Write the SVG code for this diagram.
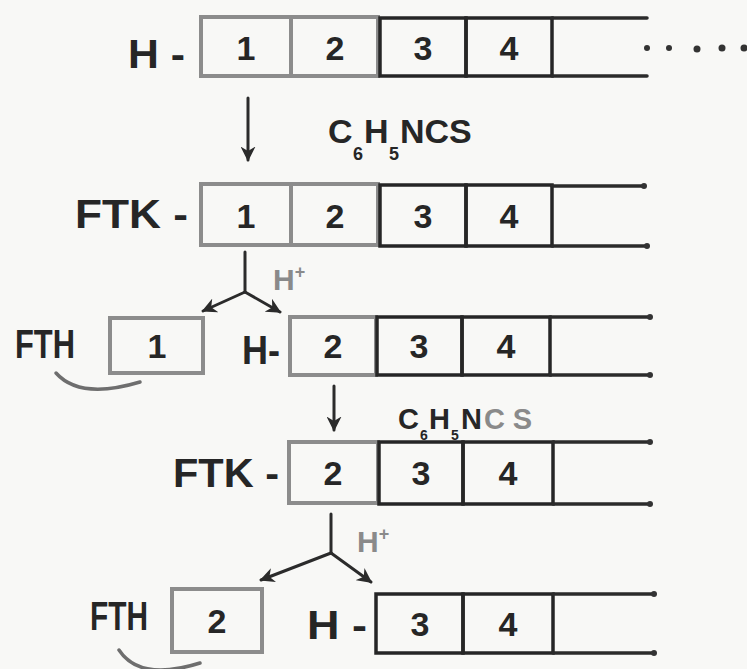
<svg xmlns="http://www.w3.org/2000/svg" width="747" height="669" viewBox="0 0 747 669">
<defs>
<style>
.bg{fill:#f8f8f6}
.gb{fill:none;stroke:#8c8c8c;stroke-width:4}
.bk{fill:none;stroke:#262626;stroke-width:3.5}
.ln{fill:none;stroke:#2b2b2b;stroke-width:3.5;stroke-linecap:round}
.end{fill:#333}
.t{font-family:"Liberation Sans","DejaVu Sans",sans-serif;font-weight:bold;fill:#262626}
.d{font-size:34px;text-anchor:middle}
.lab{font-size:40px}
.grey{fill:#8a8a8a}
.arr{fill:none;stroke:#2b2b2b;stroke-width:3;stroke-linecap:round}
.arc{fill:none;stroke:#6e6e6e;stroke-width:3.5;stroke-linecap:round}
</style>
<marker id="ah" viewBox="0 0 10 10" refX="9" refY="5" markerWidth="5" markerHeight="5" orient="auto" markerUnits="strokeWidth">
<path d="M0,0 L10,5 L0,10 L3,5 Z" fill="#2b2b2b"/>
</marker>
</defs>
<rect class="bg" x="0" y="0" width="747" height="669"/>

<g id="row1">
<text class="t lab" x="128" y="68" textLength="57" lengthAdjust="spacingAndGlyphs">H -</text>
<rect class="gb" x="201" y="17" width="90" height="59"/>
<rect class="gb" x="291" y="17" width="87" height="59"/>
<rect class="bk" x="380" y="18" width="86" height="58"/>
<rect class="bk" x="466" y="18" width="86" height="58"/>
<path class="ln" d="M552,18 H647 M552,76 H647"/>
<text class="t d" x="246" y="60">1</text>
<text class="t d" x="335" y="60">2</text>
<text class="t d" x="423" y="60">3</text>
<text class="t d" x="509" y="60">4</text>
<g class="end"><circle cx="647" cy="48" r="3"/><circle cx="669" cy="48" r="3"/><circle cx="697" cy="49" r="3.5"/><circle cx="722" cy="48" r="3.5"/><circle cx="744" cy="48" r="3.5"/></g>
</g>

<g id="row2">
<text class="t lab" x="75" y="228" textLength="113" lengthAdjust="spacingAndGlyphs">FTK -</text>
<rect class="gb" x="201" y="184" width="90" height="61"/>
<rect class="gb" x="291" y="184" width="87" height="61"/>
<rect class="bk" x="380" y="185" width="86" height="61"/>
<rect class="bk" x="466" y="185" width="86" height="61"/>
<path class="ln" d="M552,186 H643 M552,246 H647"/>
<circle class="end" cx="644" cy="186" r="3"/><circle class="end" cx="647" cy="246" r="3"/>
<text class="t d" x="246" y="228">1</text>
<text class="t d" x="335" y="228">2</text>
<text class="t d" x="423" y="228">3</text>
<text class="t d" x="509" y="228">4</text>
</g>

<g id="row3">
<text class="t lab" x="15" y="358" textLength="60" lengthAdjust="spacingAndGlyphs">FTH</text>
<rect class="gb" x="110" y="318" width="93" height="55"/>
<text class="t d" x="157" y="358">1</text>
<text class="t lab" x="242" y="364" textLength="38" lengthAdjust="spacingAndGlyphs">H-</text>
<rect class="gb" x="290" y="317" width="86" height="58"/>
<rect class="bk" x="377" y="317" width="85" height="58"/>
<rect class="bk" x="462" y="317" width="88" height="58"/>
<path class="ln" d="M550,317 H650 M550,375 H650"/>
<circle class="end" cx="650" cy="317" r="3"/><circle class="end" cx="650" cy="375" r="3"/>
<text class="t d" x="333" y="358">2</text>
<text class="t d" x="419" y="358">3</text>
<text class="t d" x="506" y="358">4</text>
<path class="arc" d="M56,373 Q80,400 140,382"/>
</g>

<g id="row4">
<text class="t lab" x="173" y="487" textLength="106" lengthAdjust="spacingAndGlyphs">FTK -</text>
<rect class="gb" x="289" y="442" width="89" height="61"/>
<rect class="bk" x="379" y="442" width="84" height="62"/>
<rect class="bk" x="463" y="442" width="90" height="62"/>
<path class="ln" d="M553,442 H650 M553,504 H650"/>
<circle class="end" cx="650" cy="442" r="3"/><circle class="end" cx="650" cy="504" r="3"/>
<text class="t d" x="333" y="485">2</text>
<text class="t d" x="421" y="485">3</text>
<text class="t d" x="508" y="485">4</text>
</g>

<g id="row5">
<text class="t lab" x="90" y="630" textLength="58" lengthAdjust="spacingAndGlyphs">FTH</text>
<rect class="gb" x="172" y="589" width="90" height="63"/>
<text class="t d" x="217" y="633">2</text>
<text class="t lab" x="307" y="639" textLength="60" lengthAdjust="spacingAndGlyphs">H -</text>
<rect class="bk" x="376" y="594" width="87" height="59"/>
<rect class="bk" x="463" y="594" width="90" height="59"/>
<path class="ln" d="M553,594 H654 M553,653 H654"/>
<circle class="end" cx="654" cy="594" r="3"/><circle class="end" cx="654" cy="653" r="3"/>
<text class="t d" x="420" y="636">3</text>
<text class="t d" x="508" y="636">4</text>
<path class="arc" d="M119,650 Q140,682 200,663"/>
</g>

<g id="connectors">
<line class="arr" x1="248" y1="98" x2="248" y2="160" marker-end="url(#ah)"/>
<path class="arr" d="M245,252 V292"/>
<line class="arr" x1="245" y1="292" x2="203" y2="311" marker-end="url(#ah)"/>
<line class="arr" x1="245" y1="292" x2="280" y2="312" marker-end="url(#ah)"/>
<line class="arr" x1="334" y1="386" x2="334" y2="430" marker-end="url(#ah)"/>
<path class="arr" d="M331,514 V553"/>
<line class="arr" x1="331" y1="553" x2="261" y2="580" marker-end="url(#ah)"/>
<line class="arr" x1="331" y1="553" x2="371" y2="582" marker-end="url(#ah)"/>
</g>

<g id="labels">
<text class="t" font-size="34" x="328" y="143"><tspan x="328" y="143">C</tspan><tspan font-size="18" x="353" y="160">6</tspan><tspan x="364" y="143">H</tspan><tspan font-size="18" x="389" y="160">5</tspan><tspan x="400" y="143">NCS</tspan></text>
<text class="t grey" font-size="30" x="273" y="290">H<tspan font-size="18" dy="-12">+</tspan></text>
<text class="t" font-size="29" x="398" y="429"><tspan x="398" y="429">C</tspan><tspan font-size="14" x="420" y="440">6</tspan><tspan x="429" y="429">H</tspan><tspan font-size="14" x="451" y="440">5</tspan><tspan x="461" y="429">N</tspan><tspan class="grey" x="484" y="429" textLength="48" lengthAdjust="spacing">CS</tspan></text>
<text class="t grey" font-size="30" x="357" y="552">H<tspan font-size="18" dy="-12">+</tspan></text>
</g>
</svg>
